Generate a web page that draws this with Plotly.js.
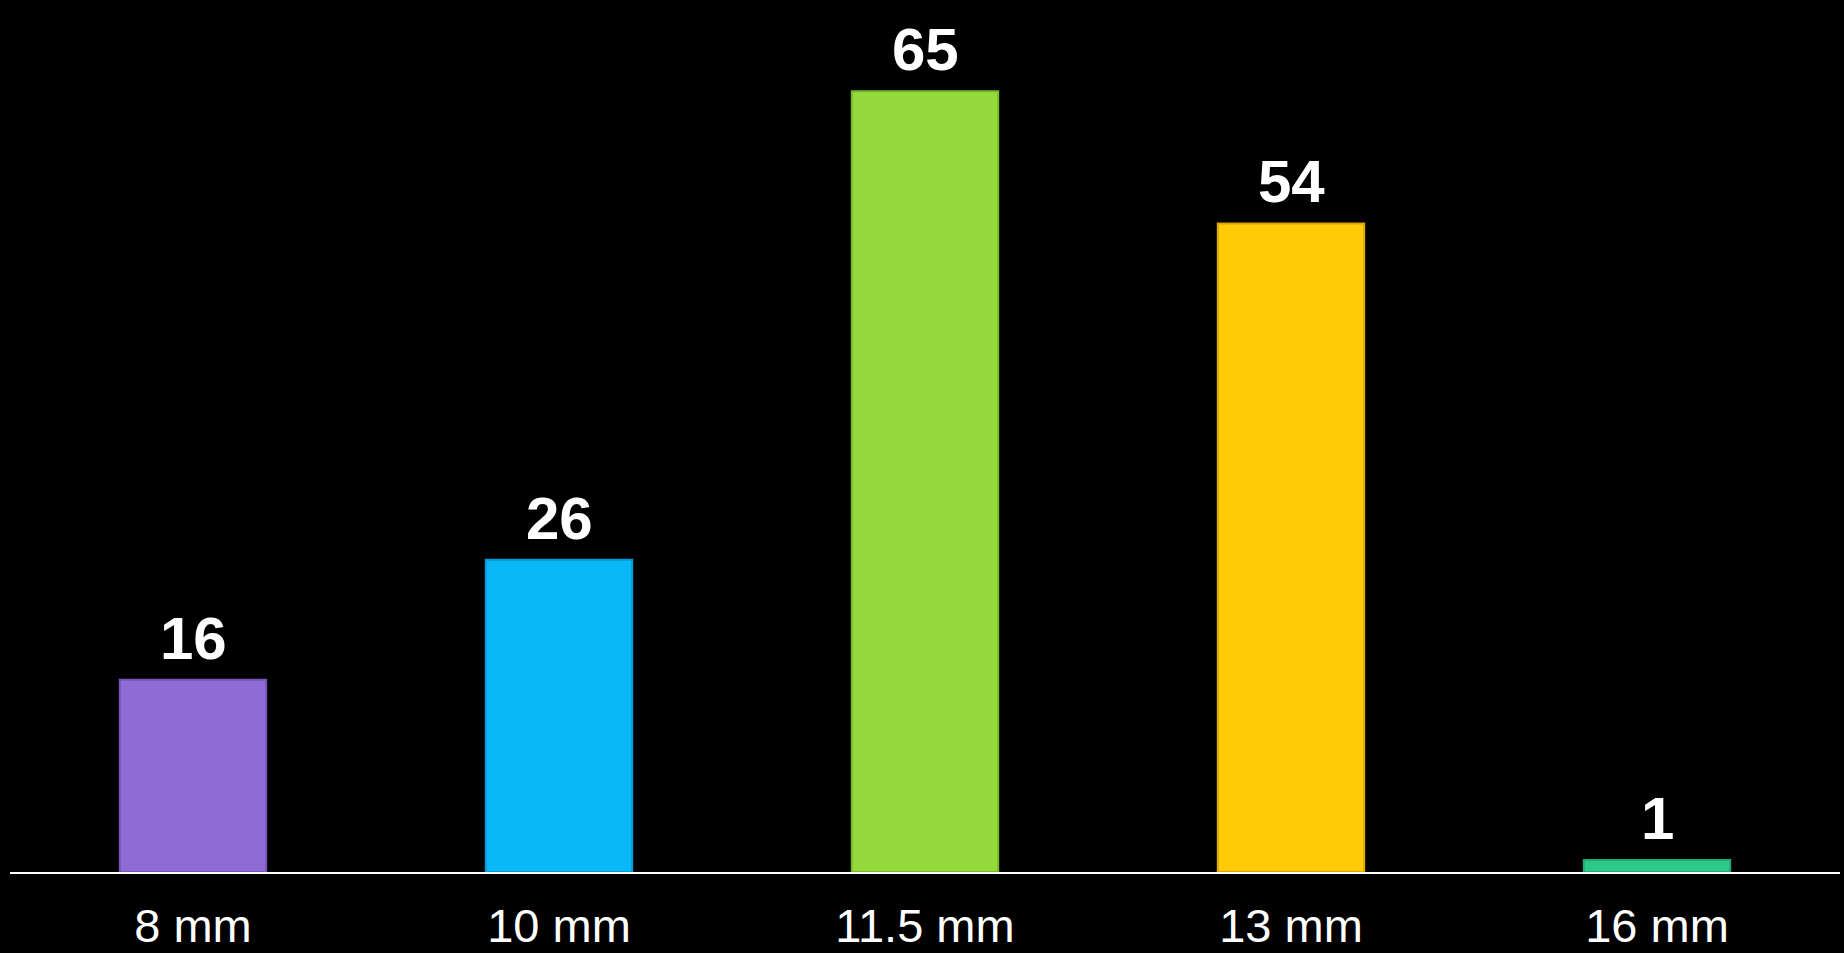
<!DOCTYPE html>
<html>
<head>
<meta charset="utf-8">
<script src="https://cdn.plot.ly/plotly-3.0.1.min.js"></script>
<style>
  html, body { margin: 0; padding: 0; background: #000; }
  #chart { width: 1844px; height: 953px; }
</style>
</head>
<body>
<div id="chart"></div>
<script>
// Counts by size
const sizes = ['8 mm', '10 mm', '11.5 mm', '13 mm', '16 mm'];
const counts = [16, 26, 65, 54, 1];
const barColors = ['#8F6BD6', '#0BB8F7', '#96D93C', '#FFCB08', '#2DC98B'];
const edgeColors = ['#7458B8', '#0898D0', '#78B82A', '#D8A800', '#22A873'];

const trace = {
  type: 'bar',
  x: sizes,
  y: counts,
  width: 0.4,
  marker: {
    color: barColors,
    line: { color: edgeColors, width: 2 }
  },
  hoverinfo: 'skip'
};

// Value labels above each bar
const labels = sizes.map((s, i) => ({
  x: s,
  y: counts[i],
  xref: 'x',
  yref: 'y',
  text: String(counts[i]),
  showarrow: false,
  yanchor: 'bottom',
  yshift: 7,
  borderpad: 0,
  font: { family: 'Liberation Sans, Arial, sans-serif', size: 60, color: '#ffffff', weight: 'bold' }
}));

const layout = {
  width: 1844,
  height: 953,
  margin: { l: 10, r: 4, t: 0, b: 81 },
  paper_bgcolor: '#000000',
  plot_bgcolor: '#000000',
  showlegend: false,
  bargap: 0.6,
  xaxis: {
    type: 'category',
    showline: true,
    linecolor: '#ffffff',
    linewidth: 2,
    showgrid: false,
    zeroline: false,
    ticks: '',
    ticklabelstandoff: 12,
    tickfont: { family: 'Liberation Sans, Arial, sans-serif', size: 47, color: '#ffffff' }
  },
  yaxis: {
    range: [0, 72.6],
    visible: false,
    showgrid: false,
    zeroline: false
  },
  annotations: labels
};

Plotly.newPlot('chart', [trace], layout, { displayModeBar: false, staticPlot: true });
</script>
</body>
</html>
